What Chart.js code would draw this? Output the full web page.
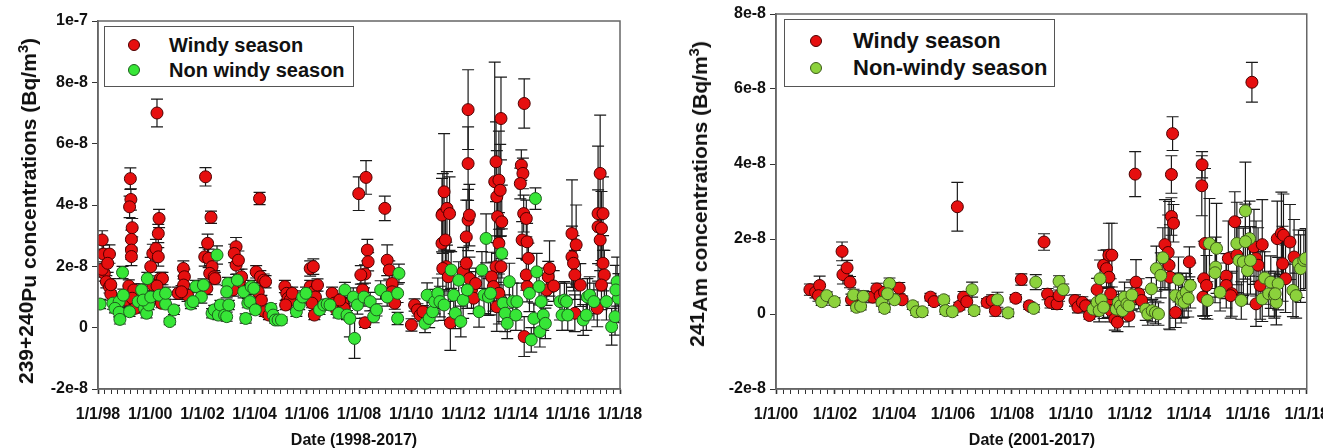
<!DOCTYPE html>
<html>
<head>
<meta charset="utf-8">
<script src="https://cdn.jsdelivr.net/npm/chart.js@4"></script>
<style>
  body { margin:0; width:1323px; height:448px; overflow:hidden; background:#fff; font-family:"Liberation Sans", Arial, sans-serif; color:#111; }
  canvas { position:absolute; top:0; }
  .ytitle { position:absolute; transform:translate(-50%,-50%) rotate(-90deg); white-space:nowrap; font-weight:bold; font-size:21px; }
  .ytitle .lo { position:relative; top:3px; }
  .ytitle sup { font-size:0.7em; }
  .xtitle { position:absolute; transform:translate(-50%,-50%); white-space:nowrap; font-weight:bold; font-size:16px; }
  .legend { position:absolute; border:1.5px solid #555; background:#fff; box-sizing:border-box; }
  .legend .dot { position:absolute; width:12px; height:12px; border-radius:50%; transform:translate(-50%,-50%); box-sizing:border-box; border:1px solid #333; }
  .legend .txt { position:absolute; transform:translateY(-50%); font-weight:bold; white-space:nowrap; }
</style>
</head>
<body>
<canvas id="pu" width="660" height="448" style="left:0"></canvas>
<canvas id="am" width="680" height="448" style="left:660px"></canvas>

<div class="ytitle" style="left:25px;top:211px">239+240<span class="lo">Pu concentrations (Bq/m<sup>3</sup>)</span></div>
<div class="xtitle" style="left:354px;top:440px">Date (1998-2017)</div>
<div class="ytitle" style="left:696px;top:194px">241<span class="lo">Am concentrations (Bq/m<sup>3</sup>)</span></div>
<div class="xtitle" style="left:1032px;top:440px">Date (2001-2017)</div>

<div class="legend" style="left:104px;top:26px;width:250px;height:61px">
  <span class="dot" style="left:29px;top:18px;background:#e60f0f;border-color:#4d0000"></span>
  <span class="txt" style="left:64px;top:18px;font-size:20px">Windy season</span>
  <span class="dot" style="left:29px;top:43px;background:#37e637;border-color:#1d5e1d"></span>
  <span class="txt" style="left:64px;top:43px;font-size:20px">Non windy season</span>
</div>
<div class="legend" style="left:784px;top:19px;width:271px;height:68px">
  <span class="dot" style="left:31px;top:21px;background:#e60f0f;border-color:#4d0000"></span>
  <span class="txt" style="left:68px;top:21px;font-size:22px">Windy season</span>
  <span class="dot" style="left:31px;top:48px;background:#8cd23c;border-color:#3d5a1a"></span>
  <span class="txt" style="left:68px;top:48px;font-size:22px">Non-windy season</span>
</div>

<script>
// values in units of 1e-8 Bq/m3, dates as decimal years

// 239+240Pu, windy season
const puWindyDate = [
  1998.16,1998.21,1998.44,1998.24,1998.32,1998.44,1998.49,1998.16,1998.37,1998.49,
  1999.05,1999.24,1999.26,1999.21,1999.31,1999.28,1999.28,1999.28,1999.18,1999.37,1999.31,1999.42,
  2000.26,2000.02,2000.10,2000.22,2000.31,2000.34,2000.31,2000.39,2000.47,2000.10,2000.26,2000.43,
  2001.07,2001.27,2001.31,2001.28,2001.43,2001.20,
  2002.12,2002.33,2002.20,2002.09,2002.24,2002.37,2002.28,2002.45,2002.48,2002.17,
  2003.29,2003.22,2003.29,2003.38,2003.42,2003.17,2003.50,
  2004.19,2004.06,2004.22,2004.35,2004.42,2004.14,2004.26,2004.39,2004.55,
  2005.16,2005.23,2005.28,2005.36,2005.19,2005.44,
  2006.13,2006.25,2006.13,2006.25,2006.33,2006.20,2006.29,2006.41,
  2006.97,2007.05,2007.14,2007.38,2007.43,2007.26,
  2007.99,2008.27,2008.32,2008.35,2008.23,2008.07,2008.14,2008.23,
  2008.99,2009.08,2009.16,2009.27,2009.27,2009.37,
  2010.01,2010.13,2010.24,2010.34,2010.45,
  2011.21,2011.26,2011.18,2011.37,2011.47,2011.18,2011.31,2011.34,2011.21,2011.42,2011.50,
  2012.18,2012.18,2012.11,2012.18,2012.23,2011.99,2012.11,2012.23,2012.31,2012.39,2012.47,
  2013.20,2013.25,2013.36,2013.44,2013.28,2013.41,2013.31,2013.47,2013.36,2013.25,2013.08,2013.15,2013.44,2013.36,2013.28,
  2014.33,2014.22,2014.28,2014.18,2014.31,2014.41,2014.25,2014.44,2014.49,2014.41,2014.44,2014.33,
  2015.19,2015.25,2015.30,2015.46,
  2016.16,2016.16,2016.22,2016.27,2016.32,2016.27,2016.48,
  2017.16,2017.24,2017.16,2017.24,2017.29,2017.35,2017.40,2017.29,2017.13,2017.35
];
const puWindyVal = [
  2.86,2.40,2.40,1.77,1.50,1.33,1.10,1.90,2.10,1.40,
  0.90,4.86,4.18,3.94,3.26,2.88,2.53,2.32,1.36,1.23,0.96,0.63,
  7.00,1.99,2.42,2.58,2.31,3.56,3.07,1.60,1.60,1.39,1.36,0.80,
  1.12,1.93,1.66,1.39,1.06,1.17,
  4.92,3.60,2.75,2.31,2.26,1.99,1.77,1.66,1.60,1.28,
  2.64,2.42,2.04,2.20,1.50,1.23,1.66,
  4.21,1.82,1.66,1.55,1.50,1.17,0.90,0.52,0.41,
  1.34,1.12,0.96,0.90,0.74,1.12,
  1.93,1.99,1.34,1.17,1.00,0.80,0.41,1.39,
  1.12,0.80,0.58,0.80,0.63,0.90,
  4.37,4.90,2.53,2.15,1.75,1.72,1.23,0.16,
  3.89,2.20,1.88,1.44,1.17,0.80,
  0.09,0.74,0.58,0.41,0.52,
  3.72,4.43,3.67,3.89,3.72,2.75,2.86,1.99,1.93,1.66,0.16,
  7.11,5.35,2.96,3.51,3.67,1.82,2.10,1.60,1.23,0.96,1.44,
  4.76,5.41,4.81,6.82,4.27,4.48,3.62,3.45,2.75,1.99,1.66,1.34,1.99,1.12,0.68,
  7.31,5.30,5.03,4.70,3.72,3.56,2.86,2.80,2.26,1.72,1.34,-0.29,
  1.23,1.66,1.93,1.36,
  3.07,2.31,2.10,1.72,2.70,0.47,1.39,
  3.72,5.03,3.29,2.86,3.24,2.10,1.72,1.39,0.63,3.72
];
const puWindyErr = [
  0.3,0.3,0.3,0.25,0.2,0.2,0.2,0.25,0.3,0.2,
  0.2,0.35,0.35,0.35,0.3,0.3,0.3,0.3,0.2,0.2,0.2,0.15,
  0.45,0.3,0.3,0.3,0.3,0.3,0.3,0.2,0.2,0.2,0.2,0.15,
  0.2,0.25,0.25,0.2,0.2,0.2,
  0.3,0.2,0.3,0.3,0.3,0.25,0.25,0.2,0.2,0.2,
  0.3,0.3,0.3,0.3,0.2,0.2,0.25,
  0.2,0.2,0.2,0.2,0.2,0.2,0.15,0.15,0.15,
  0.2,0.2,0.2,0.15,0.15,0.2,
  0.25,0.25,0.2,0.2,0.2,0.15,0.15,0.2,
  0.2,0.15,0.15,0.2,0.15,0.2,
  0.55,0.55,0.35,0.3,0.3,0.3,0.2,0.15,
  0.4,0.5,0.3,0.3,0.3,0.2,
  0.2,0.2,0.2,0.2,0.2,
  1.3,1.9,1.2,1.2,1.2,1.0,1.0,0.8,0.8,0.8,0.9,
  1.3,1.2,1.2,1.0,1.0,0.8,0.8,0.7,0.6,0.5,0.5,
  3.9,1.3,1.6,1.35,1.5,1.5,1.2,1.2,1.0,1.0,0.8,0.8,1.0,1.0,0.8,
  0.8,0.5,0.5,0.5,0.6,0.6,0.6,0.6,0.5,0.5,0.5,0.65,
  0.5,0.5,0.9,0.5,
  1.75,1.0,0.9,0.8,1.3,0.6,0.7,
  2.2,1.9,1.2,1.0,1.2,0.9,0.8,0.8,0.6,1.2
];

// 239+240Pu, non windy season
const puCalmDate = [
  1998.08,1998.57,1998.81,1998.97,1998.65,1998.81,1998.84,1998.94,
  1999.21,1999.54,1999.67,1999.78,1999.86,1999.94,1999.89,1999.73,
  2000.02,2000.34,2000.59,2000.75,2000.91,2000.59,
  2001.56,2001.75,2001.96,2002.04,2001.64,
  2002.56,2002.37,2002.45,2002.61,2002.69,2002.85,2002.93,2003.01,2002.98,2002.93,
  2003.34,2003.58,2003.66,2003.74,2003.82,2003.87,2003.97,2004.03,
  2004.63,2004.71,2004.79,2004.90,2005.03,
  2005.60,2005.71,2005.84,2005.97,
  2006.49,2006.65,2006.78,2006.89,
  2007.22,2007.46,2007.54,2007.65,2007.78,2007.83,2007.94,
  2008.19,2008.43,2008.56,2008.67,2008.83,
  2009.08,2009.48,2009.53,2009.48,
  2010.53,2010.61,2010.69,2010.82,2010.90,
  2011.02,2011.10,2011.26,2011.53,2011.63,2011.69,2011.82,2011.90,2011.99,
  2012.15,2012.60,2012.71,2012.87,2012.79,2012.96,
  2013.04,2013.47,2013.52,2013.60,2013.68,2013.76,2013.89,2014.01,2014.05,
  2014.76,2014.53,2014.60,2014.70,2014.81,2014.90,2014.98,2015.06,2014.93,2015.14,
  2015.70,2015.78,2015.87,2015.95,2016.00,
  2016.59,2016.71,2016.75,2016.84,2017.00,
  2017.48,2017.68,2017.81,2017.89,2017.94,2017.84
];
const puCalmVal = [
  0.77,0.80,0.85,1.06,0.63,0.50,0.27,1.80,
  0.52,0.85,1.23,0.63,0.47,0.74,1.60,0.90,
  1.00,1.06,0.77,0.20,0.58,1.12,
  0.77,1.34,1.00,1.39,0.85,
  2.37,0.47,0.58,0.41,0.74,0.41,0.36,0.74,1.44,1.17,
  1.55,1.17,0.30,0.80,0.85,1.34,1.28,0.58,
  0.63,0.41,0.25,0.25,0.25,
  0.52,0.74,1.00,1.12,
  0.58,0.74,0.77,0.74,
  0.47,1.23,0.41,0.30,1.00,-0.35,0.74,
  1.00,0.85,0.36,0.58,1.23,
  1.00,1.12,1.77,0.30,
  0.14,1.06,0.30,0.52,0.85,
  1.12,0.85,0.74,1.88,1.06,0.47,1.55,0.20,0.90,
  1.23,0.52,1.88,2.91,1.06,1.00,
  1.12,2.42,0.80,0.47,0.14,1.50,0.85,0.41,0.85,
  4.21,1.12,-0.40,0.30,1.82,1.34,0.85,0.41,-0.13,0.14,
  0.85,0.41,0.90,0.85,0.41,
  0.25,0.41,1.00,1.06,0.85,
  0.85,0.03,0.36,1.50,0.96,1.23
];
const puCalmErr = [
  0.15,0.2,0.2,0.2,0.15,0.15,0.15,0.2,
  0.15,0.2,0.2,0.15,0.15,0.15,0.2,0.2,
  0.2,0.2,0.15,0.1,0.15,0.2,
  0.15,0.2,0.2,0.2,0.15,
  0.3,0.15,0.15,0.15,0.15,0.15,0.15,0.15,0.2,0.2,
  0.2,0.2,0.15,0.15,0.15,0.2,0.2,0.15,
  0.15,0.15,0.1,0.1,0.1,
  0.15,0.15,0.2,0.2,
  0.15,0.15,0.15,0.15,
  0.15,0.25,0.15,0.6,0.3,0.65,0.3,
  0.3,0.3,0.2,0.2,0.3,
  0.3,0.3,0.3,0.2,
  0.3,0.4,0.3,0.3,0.4,
  0.5,0.5,0.5,0.6,0.6,0.5,0.6,0.5,0.6,
  0.6,0.5,0.6,0.8,0.6,0.6,
  0.7,0.8,0.6,0.6,0.5,0.6,0.6,0.5,0.6,
  0.35,0.6,0.4,0.5,0.6,0.6,0.5,0.5,0.5,0.5,
  0.6,0.5,0.6,0.6,0.5,
  0.5,0.5,0.6,0.6,0.6,
  0.6,0.6,0.6,0.8,0.8,0.8
];

// 241Am, windy season
const amWindyDate = [
  2001.15,2001.34,2001.48,2001.44,
  2002.24,2002.27,2002.41,2002.51,2002.56,
  2003.28,2003.42,2003.53,2003.68,2004.18,2004.28,
  2005.24,2005.36,
  2006.15,2006.22,2006.36,2006.47,
  2007.16,2007.33,2007.44,
  2008.13,2008.32,2008.59,
  2009.09,2009.21,2009.31,2009.53,2009.60,
  2010.14,2010.24,2010.39,2010.50,2010.63,
  2010.89,2011.11,2011.21,2011.29,2011.39,2011.29,2011.25,2011.36,2011.49,2011.58,2011.35,
  2011.97,2012.04,2012.18,2012.21,2012.30,2012.40,
  2013.19,2013.30,2013.41,2013.45,2013.41,2013.48,2013.33,2013.36,2013.55,
  2014.02,2014.45,2014.44,2014.55,2014.51,2014.60,2014.48,
  2015.27,2015.34,2015.27,2015.46,2015.56,2015.63,2015.42,
  2016.14,2016.21,2016.28,2016.35,2016.42,2016.49,2016.28,
  2017.00,2017.14,2017.21,2017.28,2017.18,2017.43,2017.57
];
const amWindyVal = [
  0.65,0.58,0.76,0.49,
  1.67,1.05,1.23,0.85,0.38,
  0.45,0.67,0.49,0.58,0.69,0.38,
  0.45,0.33,
  2.86,0.21,0.45,0.33,
  0.31,0.36,0.09,
  0.42,0.92,0.22,
  1.92,0.53,0.31,0.27,0.49,
  0.36,0.18,0.31,0.22,-0.04,
  0.65,1.30,1.21,1.57,1.57,0.98,0.31,0.09,-0.13,-0.22,0.54,
  -0.04,0.40,3.73,0.85,0.54,0.36,
  1.85,1.64,3.72,4.81,2.60,2.42,1.30,0.98,0.04,
  1.39,3.98,3.42,1.88,0.94,0.76,0.45,
  1.01,1.48,0.76,0.54,2.46,1.57,0.49,
  6.18,1.79,1.48,1.30,0.76,1.85,0.27,
  2.01,2.15,2.10,0.94,1.34,1.92,1.52
];
const amWindyErr = [
  0.15,0.15,0.25,0.15,
  0.25,0.25,0.2,0.15,0.15,
  0.15,0.15,0.15,0.15,0.15,0.1,
  0.1,0.1,
  0.65,0.1,0.15,0.1,
  0.1,0.15,0.15,
  0.1,0.15,0.1,
  0.22,0.15,0.15,0.15,0.15,
  0.15,0.15,0.15,0.15,0.1,
  0.3,0.4,0.5,0.85,0.85,0.6,0.4,0.3,0.3,0.25,0.4,
  0.3,0.3,0.6,0.6,0.4,0.3,
  1.2,1.0,0.5,0.45,0.5,0.5,1.7,1.4,0.4,
  0.4,0.35,0.8,2.0,1.0,0.8,0.5,
  0.6,1.0,0.6,0.6,0.8,1.0,0.6,
  0.53,1.0,1.0,1.0,0.9,1.2,0.6,
  1.0,1.1,1.1,0.9,1.0,1.0,1.0
];

// 241Am, non-windy season
const amCalmDate = [
  2001.55,2001.72,2001.98,
  2002.63,2002.73,2002.87,2002.96,
  2003.59,2003.68,2003.85,2004.02,2003.78,
  2004.64,2004.76,2004.96,
  2005.69,2005.75,2005.98,
  2006.65,2006.72,2007.51,2007.87,
  2008.74,2008.81,2009.60,2009.74,
  2010.75,2010.89,2010.96,2010.99,2011.03,2011.11,
  2011.54,2011.61,2011.68,2011.75,2011.82,2011.90,2011.97,2012.07,
  2012.54,2012.61,2012.73,2012.76,2012.87,2012.97,2012.90,2013.05,2013.12,
  2013.55,2013.65,2013.74,2013.79,2013.84,2013.91,2013.98,2014.05,
  2014.63,2014.70,2014.91,2014.94,2015.06,2014.89,
  2015.63,2015.70,2015.78,2015.85,2015.92,2015.99,2016.06,2016.09,2015.92,
  2016.49,2016.57,2016.71,2016.78,2016.90,2016.97,2017.03,2016.93,
  2017.53,2017.64,2017.72,2017.79,2017.90,2017.96
];
const amCalmVal = [
  0.33,0.49,0.33,
  0.51,0.18,0.21,0.47,
  0.31,0.15,0.81,0.38,0.54,
  0.22,0.06,0.06,
  0.38,0.09,0.06,
  0.65,0.09,0.38,0.03,
  0.15,0.85,0.87,0.65,
  0.13,0.31,0.09,0.94,0.38,0.18,
  0.13,0.31,0.22,0.09,0.45,0.27,0.22,0.51,
  0.13,0.00,0.67,0.09,0.04,0.00,1.21,1.03,1.50,
  0.49,0.92,0.36,0.49,0.31,0.58,0.42,0.76,
  0.36,1.88,1.25,1.75,0.58,1.10,
  1.88,1.43,0.36,1.39,2.75,1.16,2.01,1.43,1.93,
  0.40,0.96,0.54,0.85,0.49,0.31,0.81,0.54,
  0.63,0.49,1.34,1.21,1.43,1.48
];
const amCalmErr = [
  0.1,0.1,0.1,
  0.15,0.1,0.1,0.15,
  0.1,0.1,0.15,0.1,0.15,
  0.1,0.1,0.1,
  0.1,0.1,0.1,
  0.2,0.1,0.2,0.1,
  0.1,0.2,0.15,0.15,
  0.2,0.3,0.3,0.5,0.3,0.3,
  0.3,0.3,0.3,0.3,0.4,0.3,0.3,0.4,
  0.3,0.3,0.3,0.3,0.3,0.3,0.6,0.6,0.8,
  0.6,0.6,0.6,0.6,0.4,0.5,0.5,0.6,
  0.5,1.2,0.8,1.2,0.5,0.8,
  1.1,0.9,0.5,0.9,1.3,0.9,1.0,0.9,1.0,
  0.6,0.7,0.6,0.7,0.6,0.6,0.7,0.6,
  0.7,0.6,0.9,0.9,0.8,0.8
];

const RED = '#e60f0f', RED_EDGE = '#4d0000';

function points(dates, vals) {
  return dates.map((d, i) => ({ x: d, y: vals[i] }));
}

// vertical error bars with caps, drawn under the markers
const errorBars = {
  id: 'errorBars',
  beforeDatasetsDraw(chart) {
    const { ctx, chartArea: a, scales: { x, y } } = chart;
    ctx.save();
    ctx.beginPath();
    ctx.rect(a.left, a.top, a.right - a.left, a.bottom - a.top);
    ctx.clip();
    ctx.strokeStyle = '#1a1a1a';
    ctx.lineWidth = 1.2;
    chart.data.datasets.forEach((ds) => {
      ds.data.forEach((p, i) => {
        const e = ds.errors[i];
        const px = x.getPixelForValue(p.x);
        const y1 = y.getPixelForValue(p.y - e), y2 = y.getPixelForValue(p.y + e);
        ctx.beginPath();
        ctx.moveTo(px, y1); ctx.lineTo(px, y2);
        ctx.moveTo(px - 6, y1); ctx.lineTo(px + 6, y1);
        ctx.moveTo(px - 6, y2); ctx.lineTo(px + 6, y2);
        ctx.stroke();
      });
    });
    ctx.restore();
  }
};

const frame = {
  id: 'frame',
  afterDraw(chart) {
    const { ctx, chartArea: a } = chart;
    ctx.save();
    ctx.strokeStyle = '#666';
    ctx.lineWidth = 1.5;
    ctx.strokeRect(a.left, a.top, a.right - a.left, a.bottom - a.top);
    ctx.restore();
  }
};

function yLabel(v) {
  if (v === 0) return '0';
  if (v === 10) return '1e-7';
  return v + 'e-8';
}

function makeChart(id, o) {
  const tickFont = { family: '"Liberation Sans", Arial, sans-serif', size: 16, weight: 'bold' };
  new Chart(document.getElementById(id), {
    type: 'scatter',
    data: {
      datasets: [
        { label: o.calmLabel, data: o.calm, errors: o.calmErr, order: 0,
          backgroundColor: o.green, borderColor: o.greenEdge, borderWidth: 1, pointRadius: 6 },
        { label: 'Windy season', data: o.windy, errors: o.windyErr, order: 1,
          backgroundColor: RED, borderColor: RED_EDGE, borderWidth: 1, pointRadius: 6 }
      ]
    },
    options: {
      responsive: false,
      animation: false,
      devicePixelRatio: 1,
      layout: { padding: { top: o.top, right: o.right, left: 0, bottom: 0 } },
      plugins: { legend: { display: false }, tooltip: { enabled: false } },
      scales: {
        x: {
          type: 'linear', min: o.xMin, max: o.xMax,
          afterBuildTicks(axis) {
            const t = [];
            for (let v = o.xMin; v <= o.xMax; v += 0.25) t.push({ value: v });
            axis.ticks = t;
          },
          afterFit(s) { s.height = 59; },
          grid: { drawOnChartArea: false, drawTicks: true, tickLength: 5, tickColor: '#333',
                  tickWidth: (c) => (c.tick && c.tick.label ? 1.6 : 1) },
          border: { display: true, color: '#666', width: 1.5 },
          ticks: {
            autoSkip: false, maxRotation: 0, padding: 11, color: '#111', font: tickFont,
            callback: (v) => (Number.isInteger(v) && (v - o.xMin) % 2 === 0) ? '1/1/' + String(v % 100).padStart(2, '0') : ''
          }
        },
        y: {
          min: -2, max: o.yMax,
          afterFit(s) { s.width = o.yWidth; },
          grid: { drawOnChartArea: false, drawTicks: true, tickLength: 6, tickColor: '#333' },
          border: { display: true, color: '#666', width: 1.5 },
          ticks: { stepSize: 2, padding: 4, color: '#111', font: tickFont, callback: yLabel }
        }
      }
    },
    plugins: [errorBars, frame]
  });
}

makeChart('pu', {
  windy: points(puWindyDate, puWindyVal), windyErr: puWindyErr,
  calm: points(puCalmDate, puCalmVal), calmErr: puCalmErr,
  calmLabel: 'Non windy season', green: '#37e637', greenEdge: '#1d5e1d',
  xMin: 1998, xMax: 2018, yMax: 10, top: 21, right: 40, yWidth: 98
});

makeChart('am', {
  windy: points(amWindyDate, amWindyVal), windyErr: amWindyErr,
  calm: points(amCalmDate, amCalmVal), calmErr: amCalmErr,
  calmLabel: 'Non-windy season', green: '#8cd23c', greenEdge: '#3d5a1a',
  xMin: 2000, xMax: 2018, yMax: 8, top: 14, right: 33, yWidth: 116
});
</script>
</body>
</html>
